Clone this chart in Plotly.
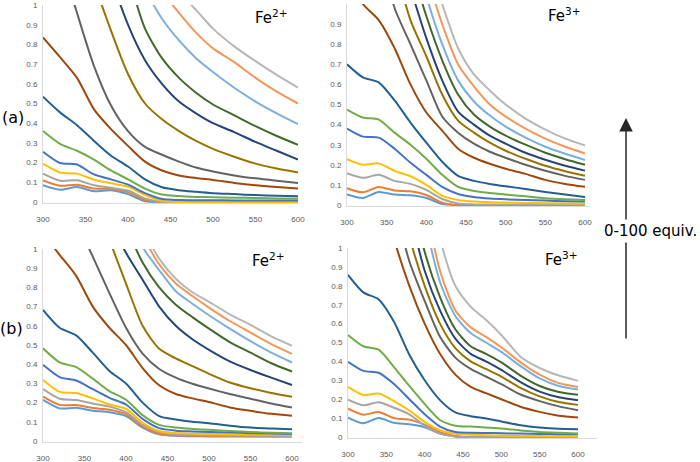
import plotly.graph_objects as go

N = None

# ---------------- data ----------------
WAVELENGTH = [300, 320, 340, 360, 380, 400, 420, 440, 460, 480, 500, 525, 550, 575, 600]
X_TICKS = [300, 350, 400, 450, 500, 550, 600]
Y_TICKS = [0, 0.1, 0.2, 0.3, 0.4, 0.5, 0.6, 0.7, 0.8, 0.9, 1]
Y_TICK_LABELS = ["0", "0.1", "0.2", "0.3", "0.4", "0.5", "0.6", "0.7", "0.8", "0.9", "1"]

# series colours, lowest curve (0 equiv.) first
SERIES_COLORS = ["#5B9BD5", "#ED7D31", "#A5A5A5", "#FFC000", "#4472C4", "#70AD47",
                 "#255E91", "#9E480E", "#636363", "#997300", "#264478", "#43682B",
                 "#7CAFDD", "#F1975A", "#B7B7B7"]

# (a) Fe2+
A_FE2 = [
    [0.085, 0.062, 0.076, 0.055, 0.06, 0.04, 0.004, 0, 0, 0, 0, 0, 0, 0, 0],
    [0.11, 0.083, 0.088, 0.068, 0.066, 0.05, 0.01, 0, 0, 0, 0, 0, 0, 0, 0],
    [0.144, 0.108, 0.11, 0.085, 0.072, 0.058, 0.018, 0, 0, 0, 0, 0, 0, 0, 0],
    [0.195, 0.15, 0.144, 0.113, 0.095, 0.078, 0.035, 0.006, 0, 0, 0, 0, 0, 0, 0],
    [0.255, 0.198, 0.19, 0.14, 0.115, 0.088, 0.045, 0.015, 0.01, 0.009, 0.009, 0.008, 0.008, 0.008, 0.008],
    [0.36, 0.295, 0.26, 0.215, 0.16, 0.115, 0.068, 0.038, 0.03, 0.026, 0.024, 0.022, 0.02, 0.018, 0.017],
    [0.535, 0.455, 0.39, 0.31, 0.235, 0.18, 0.115, 0.075, 0.06, 0.052, 0.045, 0.04, 0.035, 0.032, 0.029],
    [0.835, 0.735, 0.63, 0.47, 0.37, 0.285, 0.205, 0.16, 0.135, 0.122, 0.112, 0.097, 0.085, 0.076, 0.068],
    [1.6, 1.25, 0.96, 0.69, 0.49, 0.36, 0.28, 0.24, 0.205, 0.175, 0.155, 0.135, 0.12, 0.108, 0.097],
    [N, N, 1.5, 1.12, 0.87, 0.65, 0.5, 0.42, 0.36, 0.31, 0.27, 0.23, 0.195, 0.17, 0.15],
    [N, N, N, 1.5, 1.15, 0.9, 0.72, 0.6, 0.51, 0.45, 0.4, 0.355, 0.305, 0.26, 0.215],
    [N, N, N, N, 1.45, 1.15, 0.88, 0.73, 0.63, 0.555, 0.495, 0.44, 0.385, 0.335, 0.29],
    [N, N, N, N, N, 1.25, 1.08, 0.93, 0.82, 0.73, 0.66, 0.58, 0.51, 0.45, 0.395],
    [N, N, N, N, N, N, 1.25, 1.07, 0.96, 0.86, 0.78, 0.71, 0.63, 0.56, 0.5],
    [N, N, N, N, N, N, N, 1.16, 1.065, 0.975, 0.88, 0.79, 0.715, 0.645, 0.58],
]

# (a) Fe3+
A_FE3 = [
    [0.053, 0.035, 0.065, 0.052, 0.048, 0.035, 0.005, 0, 0, 0, 0, 0, 0, 0, 0],
    [0.083, 0.063, 0.09, 0.072, 0.068, 0.05, 0.012, 0, 0, 0, 0, 0, 0, 0, 0],
    [0.158, 0.135, 0.15, 0.12, 0.105, 0.075, 0.03, 0.008, 0.003, 0.002, 0.002, 0.002, 0.002, 0.002, 0.002],
    [0.228, 0.2, 0.207, 0.17, 0.143, 0.1, 0.045, 0.025, 0.017, 0.014, 0.012, 0.01, 0.009, 0.008, 0.008],
    [0.38, 0.34, 0.335, 0.28, 0.21, 0.15, 0.09, 0.055, 0.04, 0.032, 0.028, 0.025, 0.022, 0.019, 0.017],
    [0.475, 0.435, 0.425, 0.36, 0.3, 0.23, 0.15, 0.09, 0.07, 0.06, 0.052, 0.043, 0.033, 0.028, 0.025],
    [0.7, 0.635, 0.61, 0.52, 0.41, 0.31, 0.215, 0.145, 0.12, 0.105, 0.093, 0.08, 0.065, 0.052, 0.04],
    [1.15, 1.0, 0.92, 0.78, 0.6, 0.46, 0.37, 0.28, 0.235, 0.205, 0.18, 0.155, 0.125, 0.105, 0.091],
    [N, 1.6, 1.3, 0.98, 0.8, 0.62, 0.44, 0.36, 0.305, 0.265, 0.235, 0.2, 0.17, 0.145, 0.125],
    [N, N, N, 1.2, 0.92, 0.74, 0.55, 0.42, 0.36, 0.31, 0.27, 0.23, 0.195, 0.168, 0.145],
    [N, N, N, 1.35, 1.08, 0.83, 0.62, 0.465, 0.4, 0.345, 0.305, 0.26, 0.225, 0.195, 0.171],
    [N, N, N, N, 1.2, 0.94, 0.72, 0.55, 0.45, 0.39, 0.345, 0.3, 0.26, 0.228, 0.2],
    [N, N, N, N, 1.35, 1.04, 0.8, 0.62, 0.515, 0.445, 0.39, 0.335, 0.29, 0.255, 0.224],
    [N, N, N, N, N, 1.15, 0.9, 0.7, 0.59, 0.5, 0.44, 0.38, 0.33, 0.29, 0.257],
    [N, N, N, N, N, 1.25, 1.0, 0.78, 0.65, 0.57, 0.5, 0.43, 0.375, 0.33, 0.296],
]

# (b) Fe2+
B_FE2 = [
    [0.214, 0.17, 0.173, 0.158, 0.15, 0.13, 0.07, 0.035, 0.027, 0.025, 0.024, 0.024, 0.023, 0.023, 0.023],
    [0.231, 0.188, 0.187, 0.172, 0.163, 0.14, 0.075, 0.038, 0.03, 0.028, 0.027, 0.026, 0.025, 0.024, 0.023],
    [0.27, 0.22, 0.213, 0.195, 0.179, 0.15, 0.085, 0.045, 0.035, 0.032, 0.03, 0.029, 0.028, 0.027, 0.026],
    [0.318, 0.256, 0.25, 0.222, 0.19, 0.168, 0.095, 0.052, 0.042, 0.038, 0.036, 0.034, 0.033, 0.032, 0.031],
    [0.397, 0.333, 0.315, 0.27, 0.225, 0.19, 0.115, 0.067, 0.054, 0.05, 0.047, 0.044, 0.041, 0.039, 0.037],
    [0.483, 0.41, 0.385, 0.325, 0.26, 0.215, 0.135, 0.084, 0.07, 0.063, 0.058, 0.052, 0.047, 0.043, 0.04],
    [0.683, 0.59, 0.55, 0.46, 0.365, 0.3, 0.2, 0.13, 0.112, 0.1, 0.093, 0.08, 0.07, 0.065, 0.061],
    [1.08, 0.97, 0.86, 0.7, 0.59, 0.5, 0.38, 0.29, 0.245, 0.222, 0.203, 0.175, 0.157, 0.142, 0.132],
    [N, 1.4, 1.15, 0.96, 0.77, 0.59, 0.455, 0.375, 0.33, 0.298, 0.273, 0.245, 0.22, 0.195, 0.174],
    [N, N, N, 1.3, 1.05, 0.82, 0.6, 0.48, 0.43, 0.39, 0.35, 0.305, 0.275, 0.25, 0.231],
    [N, N, N, N, 1.15, 0.98, 0.84, 0.7, 0.6, 0.53, 0.475, 0.415, 0.37, 0.33, 0.292],
    [N, N, N, N, 1.35, 1.12, 0.93, 0.8, 0.71, 0.645, 0.585, 0.515, 0.46, 0.405, 0.362],
    [N, N, N, N, N, 1.2, 1.01, 0.89, 0.78, 0.715, 0.655, 0.585, 0.52, 0.46, 0.409],
    [N, N, N, N, N, 1.25, 1.07, 0.92, 0.82, 0.755, 0.695, 0.625, 0.565, 0.505, 0.454],
    [N, N, N, N, N, N, 1.1, 0.95, 0.845, 0.775, 0.725, 0.66, 0.605, 0.545, 0.496],
]

# (b) Fe3+
B_FE3 = [
    [0.103, 0.073, 0.1, 0.075, 0.067, 0.052, 0.018, 0.003, 0, 0, 0, 0, 0, 0, 0],
    [0.15, 0.118, 0.132, 0.1, 0.092, 0.065, 0.025, 0.006, 0, 0, 0, 0, 0, 0, 0],
    [0.198, 0.168, 0.184, 0.155, 0.12, 0.06, 0.018, 0.003, 0, 0, 0, 0, 0, 0, 0],
    [0.265, 0.222, 0.23, 0.19, 0.14, 0.08, 0.036, 0.017, 0.012, 0.009, 0.008, 0.006, 0.005, 0.004, 0.004],
    [0.398, 0.35, 0.34, 0.28, 0.2, 0.12, 0.055, 0.026, 0.022, 0.021, 0.02, 0.018, 0.016, 0.015, 0.014],
    [0.54, 0.48, 0.462, 0.37, 0.27, 0.175, 0.09, 0.06, 0.055, 0.05, 0.045, 0.035, 0.027, 0.022, 0.018],
    [0.858, 0.765, 0.728, 0.61, 0.435, 0.3, 0.195, 0.13, 0.11, 0.098, 0.082, 0.062, 0.05, 0.043, 0.041],
    [N, N, 1.4, 1.05, 0.8, 0.6, 0.44, 0.33, 0.265, 0.232, 0.2, 0.16, 0.133, 0.113, 0.103],
    [N, N, N, 1.25, 0.93, 0.72, 0.53, 0.42, 0.36, 0.32, 0.28, 0.225, 0.19, 0.162, 0.142],
    [N, N, N, 1.4, 1.06, 0.8, 0.6, 0.47, 0.4, 0.36, 0.32, 0.26, 0.215, 0.185, 0.17],
    [N, N, N, N, 1.2, 0.88, 0.67, 0.52, 0.44, 0.4, 0.355, 0.29, 0.24, 0.21, 0.195],
    [N, N, N, N, 1.35, 0.98, 0.74, 0.57, 0.48, 0.44, 0.395, 0.325, 0.27, 0.238, 0.223],
    [N, N, N, N, N, 1.15, 0.82, 0.64, 0.55, 0.5, 0.45, 0.375, 0.31, 0.27, 0.251],
    [N, N, N, N, N, 1.25, 0.88, 0.67, 0.58, 0.53, 0.475, 0.395, 0.33, 0.285, 0.265],
    [N, N, N, N, N, 1.45, 1.05, 0.8, 0.69, 0.62, 0.54, 0.425, 0.365, 0.325, 0.297],
]

PANEL_DATA = [A_FE2, A_FE3, B_FE2, B_FE3]
PANEL_LABELS = ["Fe<sup>2+</sup>", "Fe<sup>3+</sup>", "Fe<sup>2+</sup>", "Fe<sup>3+</sup>"]
ROW_LABELS = ["(a)", "(b)"]
ARROW_LABEL = "0-100 equiv."

# ---------------- layout (pixel geometry) ----------------
W, H = 700, 462
GEOM = [
    dict(x300=43, x600=298, xend=298, ytop=5, y0=202, lx=253, ly=17),
    dict(x300=347, x600=585, xend=590, ytop=4, y0=205, lx=546, ly=15),
    dict(x300=43, x600=292, xend=302, ytop=249, y0=441, lx=250, ly=260),
    dict(x300=348, x600=578, xend=597, ytop=248, y0=437, lx=543, ly=259),
]
YMIN = -0.006
TICK_FONT = dict(family="Liberation Sans Narrow, Liberation Sans, Arial", size=8, color="#595959")
TEXT_FONT = "DejaVu Sans, Verdana, sans-serif"

fig = go.Figure()
layout = dict(width=W, height=H, margin=dict(l=0, r=0, t=0, b=0, autoexpand=False),
              paper_bgcolor="white", plot_bgcolor="white", showlegend=False)
annotations = []

for i, (data, g) in enumerate(zip(PANEL_DATA, GEOM)):
    k = "" if i == 0 else str(i + 1)
    xa, ya = "x" + k, "y" + k
    for series, color in zip(data, SERIES_COLORS):
        fig.add_trace(go.Scatter(x=WAVELENGTH, y=series, mode="lines", xaxis=xa, yaxis=ya,
                                 line=dict(color=color, width=2, shape="spline", smoothing=0.7),
                                 connectgaps=False, hoverinfo="skip"))
    px_per_nm = (g["x600"] - g["x300"]) / 300.0
    xmax = 300 + (g["xend"] - g["x300"]) / px_per_nm
    px_per_unit = (g["y0"] - g["ytop"])
    ybot = g["y0"] - YMIN * px_per_unit
    layout["xaxis" + k] = dict(domain=[g["x300"] / W, g["xend"] / W], range=[300, xmax],
                               anchor=ya, tickvals=X_TICKS, ticks="", showgrid=False,
                               zeroline=False, showline=True, linecolor="#d9d9d9", linewidth=1,
                               tickfont=TICK_FONT, ticklabelstandoff=8, automargin=False)
    layout["yaxis" + k] = dict(domain=[1 - ybot / H, 1 - g["ytop"] / H], range=[YMIN, 1],
                               anchor=xa, tickvals=Y_TICKS, ticktext=Y_TICK_LABELS, ticks="",
                               showgrid=False, zeroline=False, showline=True, linecolor="#d9d9d9",
                               linewidth=1, tickfont=TICK_FONT, ticklabelstandoff=3, automargin=False)
    annotations.append(dict(x=g["lx"] / W, y=1 - g["ly"] / H, xref="paper", yref="paper",
                            text=PANEL_LABELS[i], showarrow=False, xanchor="left", yanchor="middle",
                            font=dict(family=TEXT_FONT, size=15, color="black")))

annotations.append(dict(x=13 / W, y=1 - 117 / H, xref="paper", yref="paper", text=ROW_LABELS[0],
                        showarrow=False, xanchor="center", yanchor="middle",
                        font=dict(family=TEXT_FONT, size=16, color="black")))
annotations.append(dict(x=11 / W, y=1 - 328 / H, xref="paper", yref="paper", text=ROW_LABELS[1],
                        showarrow=False, xanchor="center", yanchor="middle",
                        font=dict(family=TEXT_FONT, size=16, color="black")))
# arrow
annotations.append(dict(x=626 / W, y=1 - 118 / H, xref="paper", yref="paper", text="",
                        showarrow=True, ax=0, ay=222, arrowhead=2, arrowsize=1.8, arrowwidth=1.5,
                        arrowcolor="#262626", standoff=0))
annotations.append(dict(x=650 / W, y=1 - 231 / H, xref="paper", yref="paper", text=ARROW_LABEL,
                        showarrow=False, bgcolor="white", borderpad=2, xanchor="center",
                        yanchor="middle", font=dict(family=TEXT_FONT, size=15, color="black")))
layout["annotations"] = annotations
fig.update_layout(**layout)
fig.write_html("out.html", config={"displayModeBar": False},
               post_script="document.body.style.margin='0px';")
